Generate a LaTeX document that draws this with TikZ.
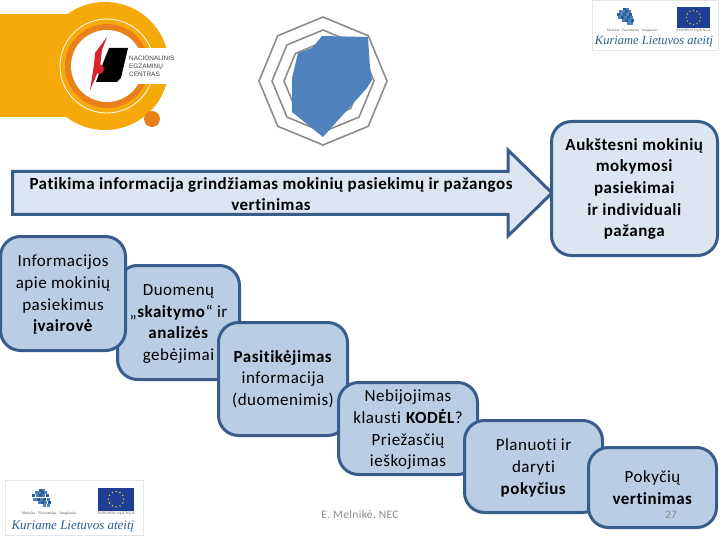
\documentclass[tikz,border=0pt]{standalone}
\usepackage{fontspec}
\setmainfont[LetterSpace=3, Ligatures=CommonOff]{Carlito}
\newfontfamily\logosans{Liberation Sans}
\newfontfamily\logoserif{Liberation Serif}
\usetikzlibrary{positioning, calc}
\definecolor{BoxLine}{HTML}{385D8A}
\definecolor{BoxFill}{HTML}{B9CDE5}
\definecolor{PaleFill}{HTML}{DCE6F2}
\definecolor{RadarBlue}{HTML}{4F81BD}
\definecolor{RadarGrid}{HTML}{8C8C8C}
\definecolor{NecOrange}{HTML}{F6AA0A}
\definecolor{NecDark}{HTML}{E9801A}
\definecolor{NecRed}{HTML}{D8232A}
\definecolor{EuBlue}{HTML}{1F3F94}
\definecolor{EuYellow}{HTML}{F4D33A}
\definecolor{SloganBlue}{HTML}{2A5F8F}
\definecolor{FootGray}{HTML}{8A8A8A}
\tikzset{
    stepnode/.style={rectangle, rounded corners=20pt, draw=BoxLine, line width=3pt, fill=BoxFill, text=black, align=center, inner sep=0pt, text depth=-1pt, font=\fontsize{17}{21.7}\selectfont},
    palenode/.style={stepnode, fill=PaleFill},
    footnode/.style={text=FootGray, inner sep=0pt, font=\fontsize{11.5}{14}\selectfont},
    gridline/.style={draw=RadarGrid, line width=1.6pt},
}
% Logo ES fondu: x, y, mastelis, smulkaus teksto dydis, šūkio dydis
\newcommand{\eulogo}[5]{
    \begin{scope}[shift={(#1,#2)}, scale=#3]
        \fill[white] (0,0) rectangle (126,50);
        \draw[gray!20] (0,0) rectangle (126,50);
        % Lietuvos žemėlapis iš kvadratėlių
        \foreach \cx/\cy/\cc in {31/8/SloganBlue, 34/8/RadarBlue, 27/10/RadarBlue, 30/10/RadarBlue, 33/10/SloganBlue, 36/10/RadarBlue, 25/13/SloganBlue, 28/13/RadarBlue, 31/13/SloganBlue, 34/13/RadarBlue, 37/13/SloganBlue, 26/16/RadarBlue, 29/16/SloganBlue, 32/16/RadarBlue, 35/16/SloganBlue, 38/16/RadarBlue, 30/19/RadarBlue, 33/19/SloganBlue, 36/19/RadarBlue, 39/19/SloganBlue, 35/22/RadarBlue, 38/22/RadarBlue}
            \fill[\cc] (\cx,\cy) rectangle ++(2.8,2.8);
        % Vėliava
        \fill[EuBlue] (85,7) rectangle (118,28);
        \foreach \a in {0,30,...,330} \fill[EuYellow] ($(101.5,17.5)+(\a:7)$) circle (0.7);
        \node[inner sep=0pt, text=gray!70!black, font=\logoserif\fontsize{#4}{#4}\selectfont] (tagline#1) at (40,30.5) {\textsc{Mokslas · Ekonomika · Sanglauda}};
        \node[inner sep=0pt, text=gray!70!black, font=\logoserif\fontsize{#4}{#4}\selectfont] (union#1) at (101.5,30.5) {EUROPOS SĄJUNGA};
        \node[inner sep=0pt, text=SloganBlue, font=\logoserif\itshape\fontsize{#5}{#5}\selectfont] (slogan#1) at (62,42) {Kuriame Lietuvos ateitį};
    \end{scope}
}

\begin{document}
\begin{tikzpicture}[x=1pt, y=-1pt]
    \useasboundingbox (0,0) rectangle (720,540);

    % Egzaminų centro logotipas
    \fill[NecOrange] (0,14) rectangle (70,117);
    \fill[NecOrange] (105,66) circle (64);
    \fill[white] (128,48) rectangle (175,84);
    \draw[white, line width=0.8pt] (107,66) circle (47);
    \fill[NecDark] (107,66) circle (42);
    \fill[white] (107,66) circle (36);
    \fill[white] (128,48) rectangle (150,84);
    \fill[NecDark] (152,119) circle (8);
    \fill[black] (109,48) -- (128,48) -- (121,78) -- (117,82) -- (96,82) -- (103,63) -- cycle;
    \fill[NecRed] (107,37) -- (95,53) -- (94,65) -- (90,90) -- (100,67) -- (102,50) -- cycle;
    \fill[NecRed] (99,69) circle (5);
    \node[anchor=west, inner sep=0pt, align=left, text=black!75, font=\logosans\fontsize{6.4}{8.1}\selectfont] (necname) at (129,66) {NACIONALINIS\\EGZAMINŲ\\CENTRAS};

    % Voratinklio diagrama
    \begin{scope}[shift={(323,81)}]
        \foreach \r in {64,51,39}
            \draw[gridline] (0:\r) \foreach \a in {45,90,...,315} {-- (\a:\r)} -- cycle;
    \end{scope}
    \fill[RadarBlue] (322,36) -- (368,37) -- (370,68) -- (372,80) -- (367,88) -- (323,137) -- (292,112) -- (292,78) -- (298,53) -- (312,48) -- cycle;

    % Logotipai
    \eulogo{592}{0}{1}{3.6}{12.5}
    \eulogo{5}{480}{1.095}{3.9}{13}

    % Rodyklė
    \draw[line width=3pt, draw=BoxLine, fill=PaleFill, line join=miter] (12.5,171.5) -- (508,171.5) -- (508,150) -- (552,193) -- (508,236) -- (508,214.5) -- (12.5,214.5) -- cycle;
    \node[align=center, inner sep=0pt, font=\bfseries\fontsize{17}{21.7}\selectfont] (mainlabel) at (271,194) {Patikima informacija grindžiamas mokinių pasiekimų ir pažangos\\vertinimas};

    % Rezultatas
    \node[palenode, text depth=2pt, minimum width=166pt, minimum height=134pt] (result) at (634.5,188.5) {\textbf{Aukštesni mokinių}\\\textbf{mokymosi}\\\textbf{pasiekimai}\\\textbf{ir individuali}\\\textbf{pažanga}};

    % Laipteliai
    \node[stepnode, minimum width=122pt, minimum height=114pt] (reading) at (178.5,322.5) {Duomenų\\[0pt]„\textbf{skaitymo}“ ir\\\textbf{analizės}\\gebėjimai};
    \node[stepnode, minimum width=125pt, minimum height=114pt] (variety) at (63,293.5) {Informacijos\\apie mokinių\\pasiekimus\\\textbf{įvairovė}};
    \node[stepnode, text depth=2pt, minimum width=129pt, minimum height=113pt] (trust) at (283,379) {\textbf{Pasitikėjimas}\\informacija\\(duomenimis)};
    \node[stepnode, minimum width=139pt, minimum height=92pt] (why) at (408,428.5) {Nebijojimas\\klausti \textbf{KODĖL}?\\Priežasčių\\ieškojimas};
    \node[stepnode, minimum width=138pt, minimum height=92pt] (plan) at (533.5,466.5) {Planuoti ir\\daryti\\\textbf{pokyčius}};
    \node[stepnode, minimum width=128pt, minimum height=80pt] (change) at (652.5,487.5) {Pokyčių\\\textbf{vertinimas}};

    % Poraštė
    \node[footnode] (author) at (360,515) {E. Melnikė, NEC};
    \node[footnode] (pagenum) at (671,515) {27};
\end{tikzpicture}
\end{document}
